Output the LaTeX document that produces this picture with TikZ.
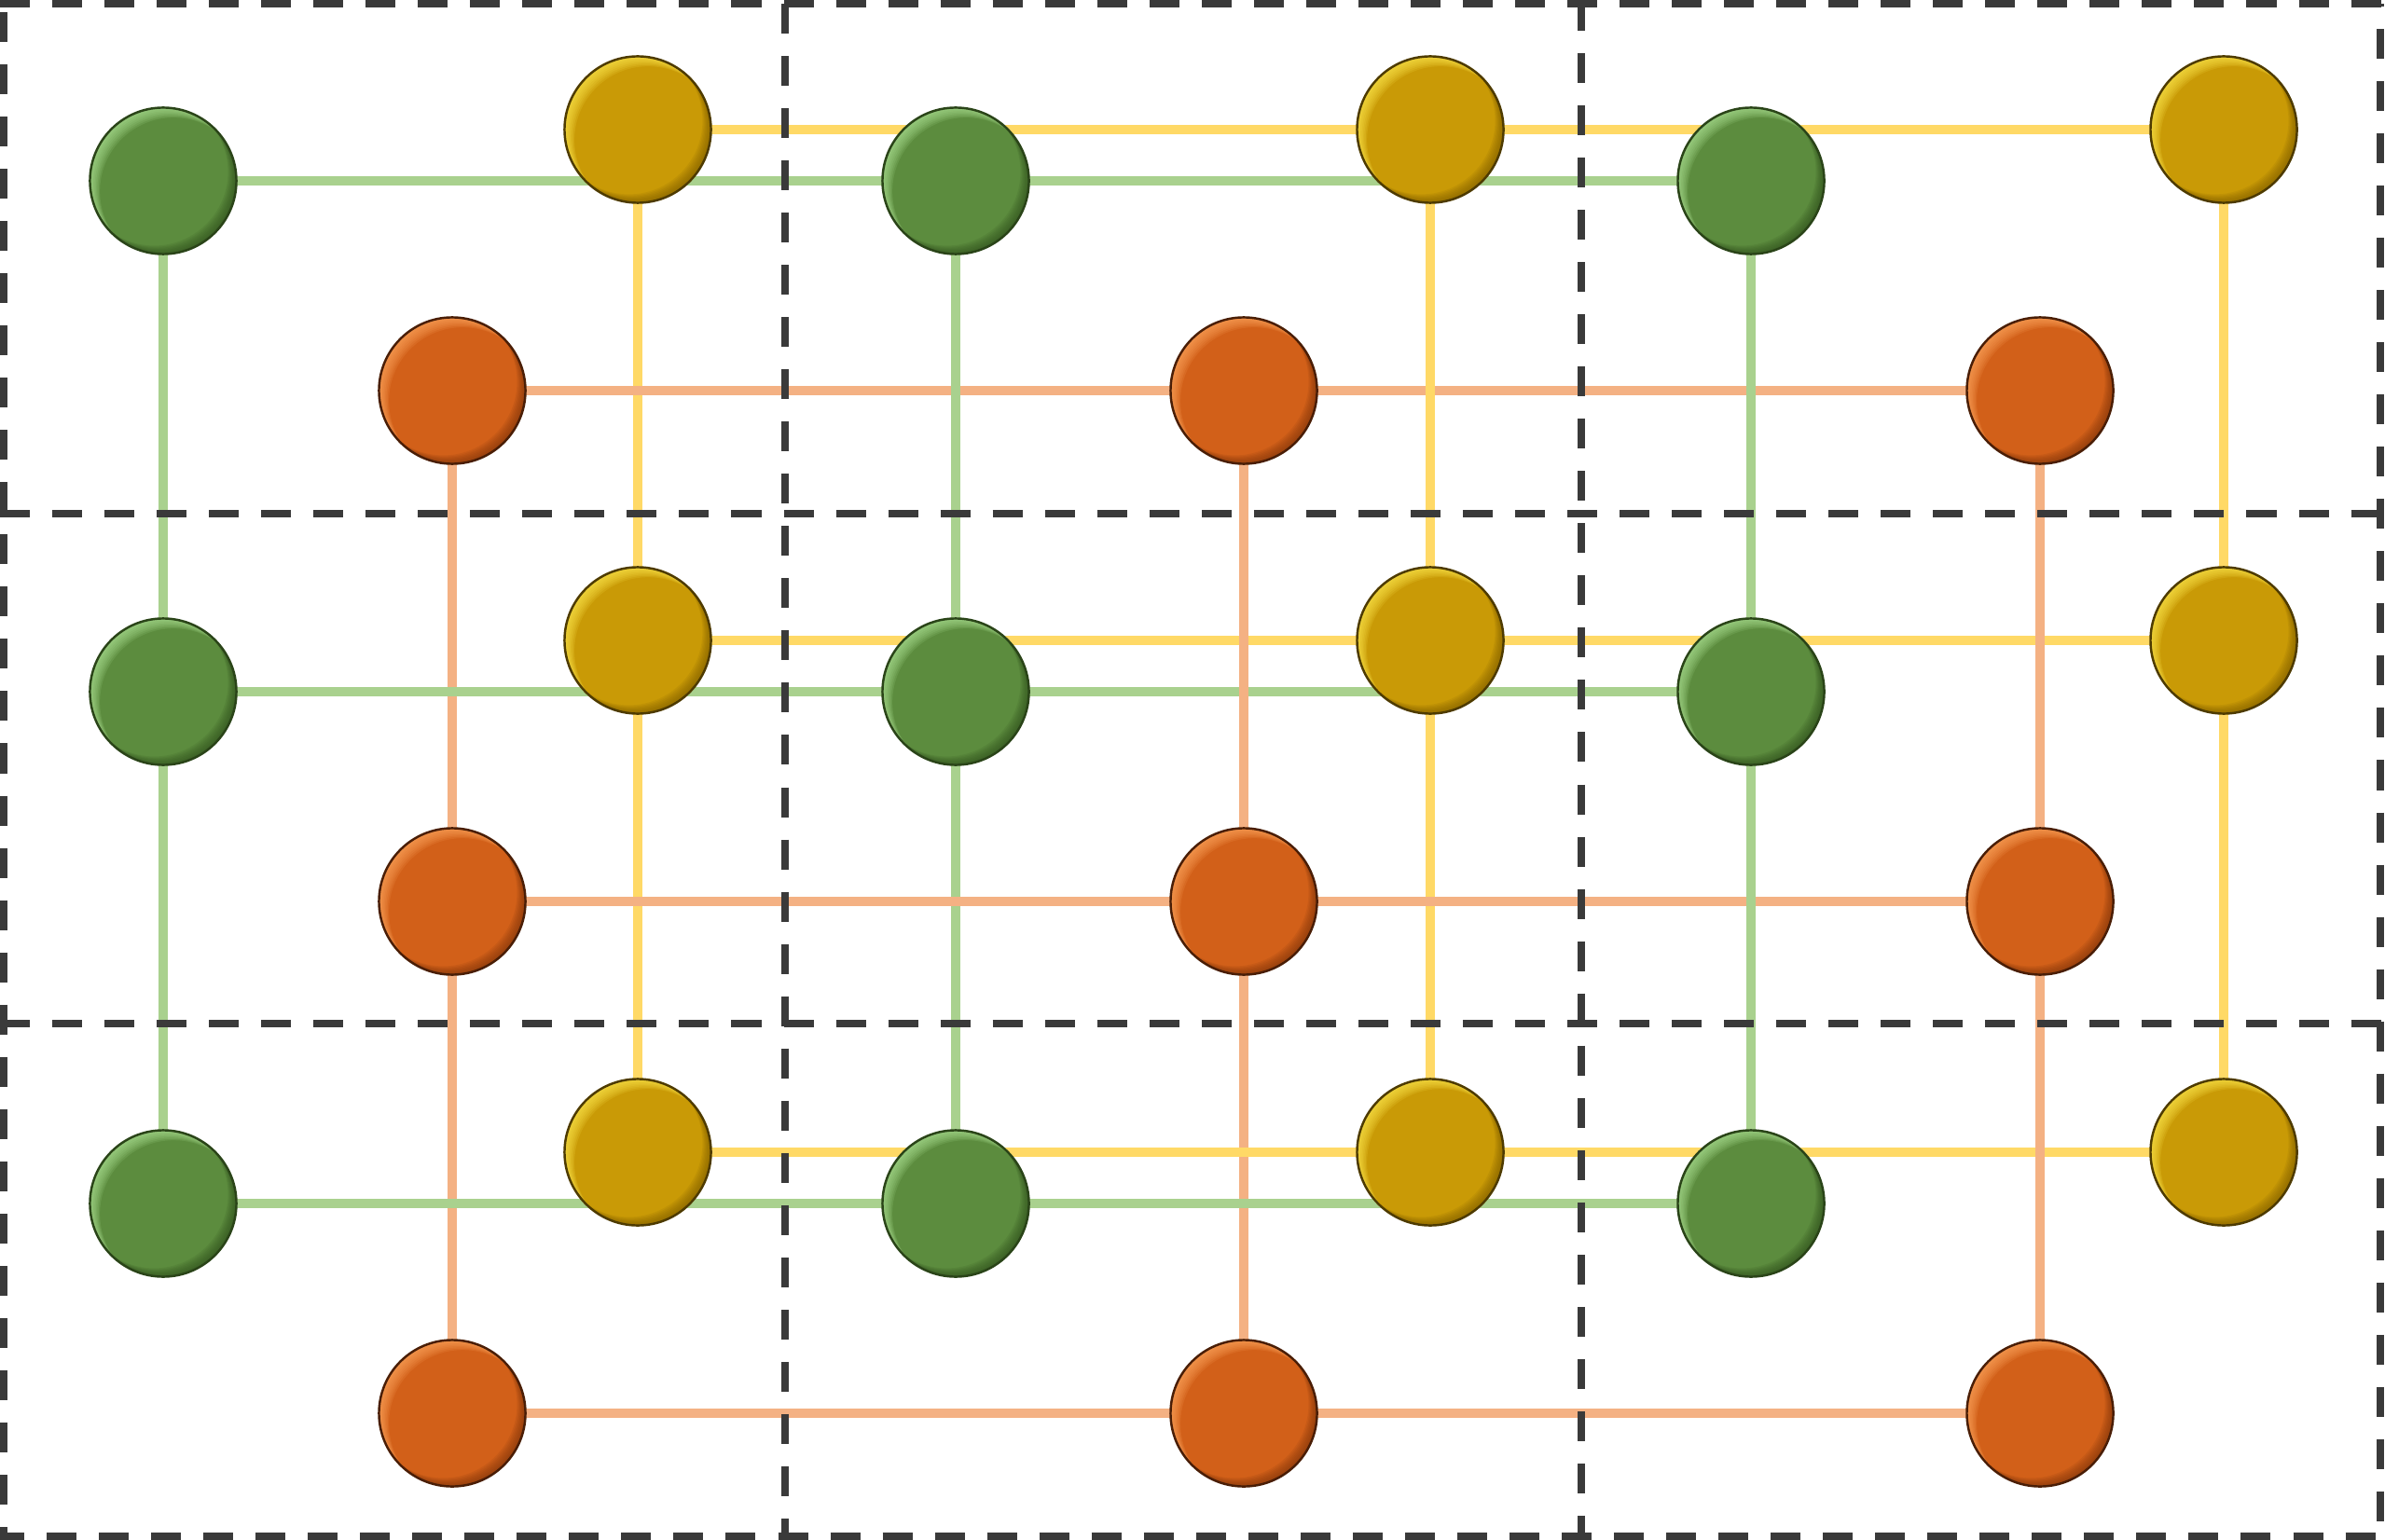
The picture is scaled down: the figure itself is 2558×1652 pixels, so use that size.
\documentclass[tikz,border=0pt]{standalone}
\usetikzlibrary{backgrounds}
\definecolor{gline}{HTML}{A9D18E}
\definecolor{yline}{HTML}{FFD966}
\definecolor{oline}{HTML}{F4B183}
\definecolor{dashc}{HTML}{3A3A3A}
\definecolor{gbase}{HTML}{5C8C3E}
\definecolor{glight}{HTML}{B0E496}
\definecolor{gdark}{HTML}{2F4F1C}
\definecolor{gedge}{HTML}{2A4418}
\definecolor{ybase}{HTML}{C99A06}
\definecolor{ylight}{HTML}{FFEA50}
\definecolor{ydark}{HTML}{7E5C00}
\definecolor{yedge}{HTML}{4E3B00}
\definecolor{obase}{HTML}{D26019}
\definecolor{olight}{HTML}{FFA860}
\definecolor{odark}{HTML}{7E340A}
\definecolor{oedge}{HTML}{4A1E06}
\tikzset{
  ball/.style={circle, minimum size=1.57cm, inner sep=0pt, fill=#1base, draw=#1edge, line width=0.7pt,
    path picture={
      \foreach \i in {1,...,8} {
        \fill[#1dark, opacity=0.12, even odd rule] (path picture bounding box.center) circle (0.8cm)
          ([shift={({-\i*0.012cm},{\i*0.012cm})}]path picture bounding box.center) circle (0.79cm);
        \fill[#1light, opacity=0.14, even odd rule] (path picture bounding box.center) circle (0.8cm)
          ([shift={({\i*0.014cm},{-\i*0.014cm})}]path picture bounding box.center) circle (0.79cm);
      }
    }},
  gball/.style={ball=g},
  yball/.style={ball=y},
  oball/.style={ball=o},
  glink/.style={draw=gline, line width=0.1cm},
  ylink/.style={draw=yline, line width=0.1cm},
  olink/.style={draw=oline, line width=0.1cm},
  gridline/.style={draw=dashc, line width=0.08cm, dash pattern=on 0.32cm off 0.24cm}
}
\begin{document}
\begin{tikzpicture}[x=0.01cm, y=-0.01cm]
\useasboundingbox (0,0) rectangle (2558,1652);
% dashed cell grid
\draw[gridline] (0,4) -- (2558,4);
\draw[gridline] (0,551) -- (2558,551);
\draw[gridline] (0,1098) -- (2558,1098);
\draw[gridline, dash phase=0.10cm] (4,1648) -- (2558,1648);
\draw[gridline, dash phase=0.47cm] (4,4) -- (4,1652);
\draw[gridline] (842,4) -- (842,1652);
\draw[gridline, dash phase=0.03cm] (1696,4) -- (1696,1652);
\draw[gridline, dash phase=0.29cm] (2553,4) -- (2553,1652);
% green balls
\node[gball] (g11) at (175,194) {};
\node[gball] (g21) at (1025,194) {};
\node[gball] (g31) at (1878,194) {};
\node[gball] (g12) at (175,742) {};
\node[gball] (g22) at (1025,742) {};
\node[gball] (g32) at (1878,742) {};
\node[gball] (g13) at (175,1291) {};
\node[gball] (g23) at (1025,1291) {};
\node[gball] (g33) at (1878,1291) {};
% yellow balls
\node[yball] (y11) at (684,139) {};
\node[yball] (y21) at (1534,139) {};
\node[yball] (y31) at (2385,139) {};
\node[yball] (y12) at (684,687) {};
\node[yball] (y22) at (1534,687) {};
\node[yball] (y32) at (2385,687) {};
\node[yball] (y13) at (684,1236) {};
\node[yball] (y23) at (1534,1236) {};
\node[yball] (y33) at (2385,1236) {};
% orange balls
\node[oball] (o11) at (485,419) {};
\node[oball] (o21) at (1334,419) {};
\node[oball] (o31) at (2188,419) {};
\node[oball] (o12) at (485,967) {};
\node[oball] (o22) at (1334,967) {};
\node[oball] (o32) at (2188,967) {};
\node[oball] (o13) at (485,1516) {};
\node[oball] (o23) at (1334,1516) {};
\node[oball] (o33) at (2188,1516) {};
% links
\begin{scope}[on background layer]
\foreach \k in {1,2,3} {
  \draw[glink] (g1\k.center) -- (g3\k.center);
  \draw[glink] (g\k1.center) -- (g\k3.center);
  \draw[ylink] (y1\k.center) -- (y3\k.center);
  \draw[ylink] (y\k1.center) -- (y\k3.center);
  \draw[olink] (o1\k.center) -- (o3\k.center);
  \draw[olink] (o\k1.center) -- (o\k3.center);
}
\end{scope}
\end{tikzpicture}
\end{document}
